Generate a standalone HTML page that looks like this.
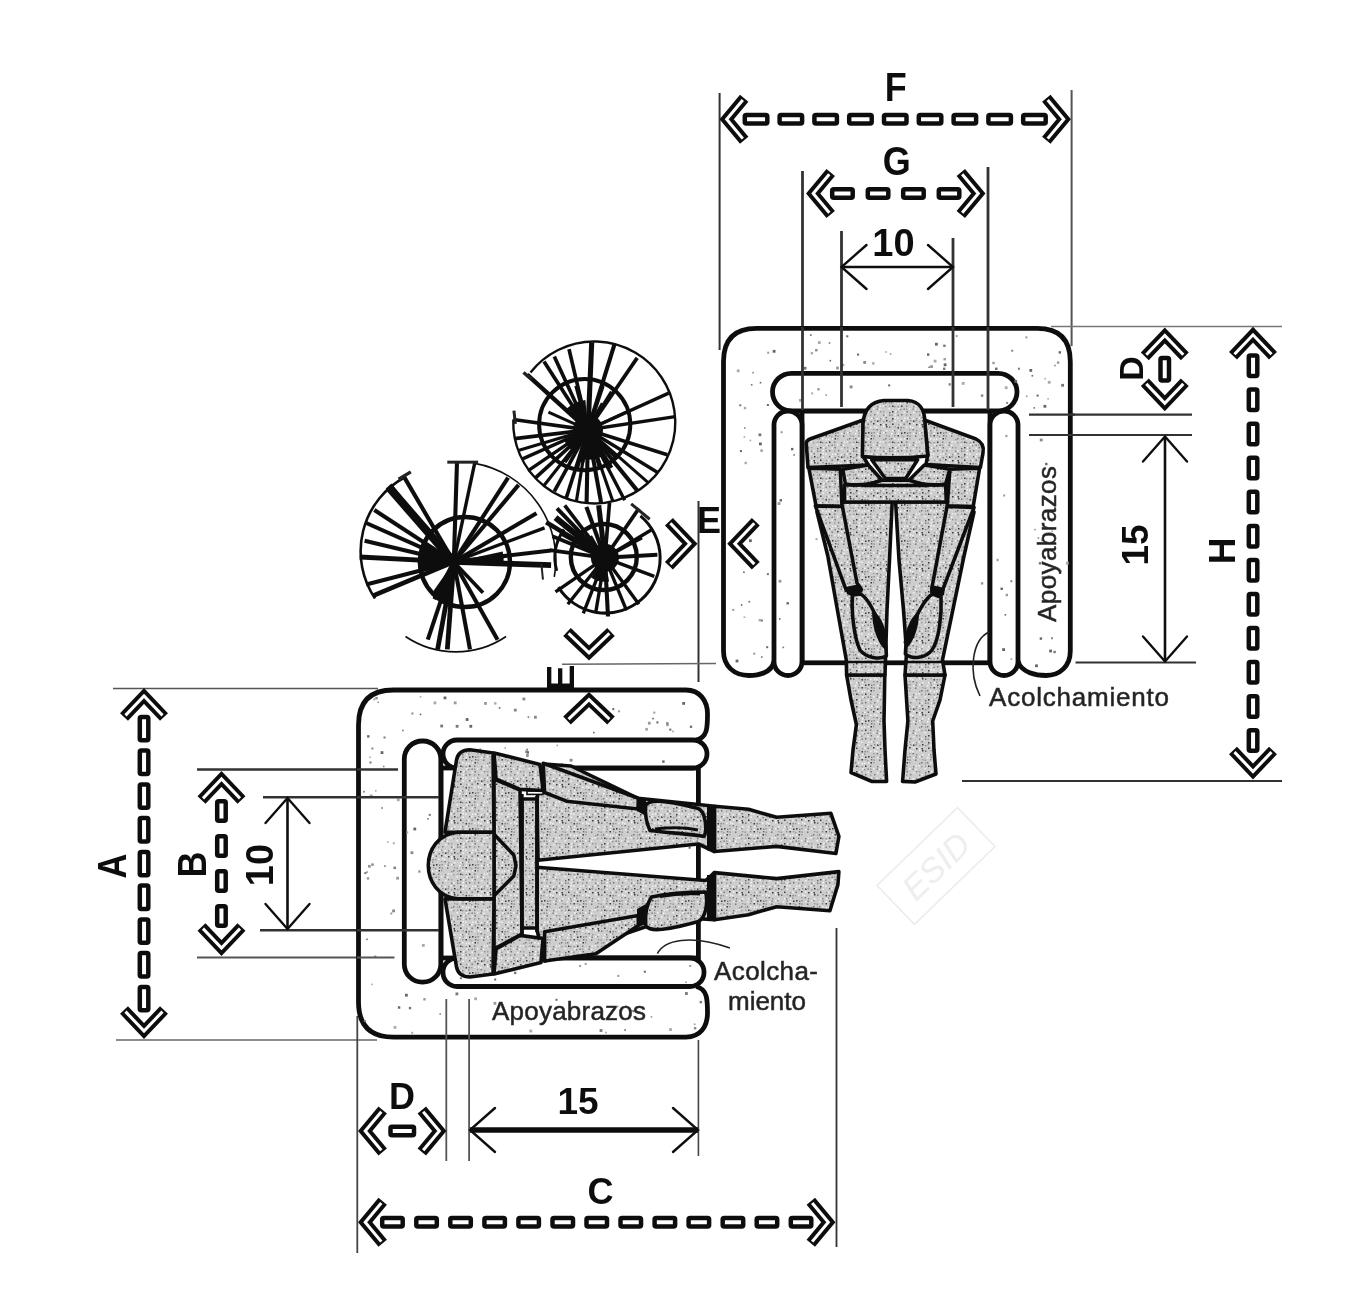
<!DOCTYPE html>
<html><head><meta charset="utf-8"><title>Diagram</title>
<style>
html,body{margin:0;padding:0;background:#fff;}
svg{display:block;font-family:"Liberation Sans",sans-serif;}
</style></head><body>
<svg width="1366" height="1295" viewBox="0 0 1366 1295">
<filter id="soft" x="0" y="0" width="100%" height="100%" filterUnits="userSpaceOnUse"><feGaussianBlur stdDeviation="0.55"/></filter>
<g filter="url(#soft)">
<rect width="1366" height="1295" fill="#fff"/>
<defs>
<pattern id="stip" width="36" height="36" patternUnits="userSpaceOnUse">
<rect width="36" height="36" fill="#cdcdcd"/>
<rect x="1" y="0.5" width="1.5" height="1.5" fill="#3a3a3a"/>
<rect x="4" y="0" width="1.5" height="1.5" fill="#3a3a3a"/>
<rect x="7" y="0.5" width="1.4" height="1.4" fill="#7a7a7a"/>
<rect x="9.5" y="0" width="1.4" height="1.4" fill="#8e8e8e"/>
<rect x="13" y="1" width="1.5" height="1.5" fill="#f4f4f4"/>
<rect x="15.5" y="0.5" width="1.4" height="1.4" fill="#7a7a7a"/>
<rect x="19" y="0" width="1.5" height="1.5" fill="#f4f4f4"/>
<rect x="21" y="0" width="1.4" height="1.4" fill="#8e8e8e"/>
<rect x="27" y="1" width="1.5" height="1.5" fill="#f4f4f4"/>
<rect x="30.5" y="0.5" width="1.4" height="1.4" fill="#8e8e8e"/>
<rect x="33.5" y="1" width="1.5" height="1.5" fill="#f4f4f4"/>
<rect x="1" y="3" width="1.4" height="1.4" fill="#9a9a9a"/>
<rect x="3" y="4" width="1.4" height="1.4" fill="#9a9a9a"/>
<rect x="7" y="3" width="1.4" height="1.4" fill="#6a6a6a"/>
<rect x="9.5" y="3.5" width="1.4" height="1.4" fill="#8e8e8e"/>
<rect x="15" y="3.5" width="1.4" height="1.4" fill="#6a6a6a"/>
<rect x="22" y="3" width="1.4" height="1.4" fill="#9a9a9a"/>
<rect x="24.5" y="3.5" width="1.4" height="1.4" fill="#8e8e8e"/>
<rect x="30" y="3" width="1.4" height="1.4" fill="#8e8e8e"/>
<rect x="33.5" y="3" width="1.5" height="1.5" fill="#3a3a3a"/>
<rect x="0" y="6.5" width="1.5" height="1.5" fill="#f4f4f4"/>
<rect x="4" y="6" width="1.5" height="1.5" fill="#f4f4f4"/>
<rect x="6.5" y="6" width="1.5" height="1.5" fill="#3a3a3a"/>
<rect x="9" y="6" width="1.4" height="1.4" fill="#9a9a9a"/>
<rect x="19" y="7" width="1.4" height="1.4" fill="#8e8e8e"/>
<rect x="21" y="6" width="1.4" height="1.4" fill="#6a6a6a"/>
<rect x="25" y="6.5" width="1.4" height="1.4" fill="#9a9a9a"/>
<rect x="27" y="6" width="1.4" height="1.4" fill="#7a7a7a"/>
<rect x="30" y="6" width="1.5" height="1.5" fill="#f4f4f4"/>
<rect x="33.5" y="7" width="1.5" height="1.5" fill="#f4f4f4"/>
<rect x="1" y="9.5" width="1.5" height="1.5" fill="#3a3a3a"/>
<rect x="6" y="9.5" width="1.4" height="1.4" fill="#7a7a7a"/>
<rect x="13" y="10" width="1.4" height="1.4" fill="#7a7a7a"/>
<rect x="15.5" y="9.5" width="1.5" height="1.5" fill="#f4f4f4"/>
<rect x="18.5" y="9" width="1.5" height="1.5" fill="#f4f4f4"/>
<rect x="21" y="10" width="1.4" height="1.4" fill="#9a9a9a"/>
<rect x="25" y="9.5" width="1.4" height="1.4" fill="#9a9a9a"/>
<rect x="28" y="9.5" width="1.5" height="1.5" fill="#3a3a3a"/>
<rect x="30" y="10" width="1.4" height="1.4" fill="#8e8e8e"/>
<rect x="33.5" y="10" width="1.4" height="1.4" fill="#8e8e8e"/>
<rect x="0" y="13" width="1.4" height="1.4" fill="#8e8e8e"/>
<rect x="3.5" y="12.5" width="1.4" height="1.4" fill="#7a7a7a"/>
<rect x="6" y="12.5" width="1.4" height="1.4" fill="#9a9a9a"/>
<rect x="9" y="12" width="1.5" height="1.5" fill="#f4f4f4"/>
<rect x="12.5" y="12.5" width="1.4" height="1.4" fill="#7a7a7a"/>
<rect x="15" y="12.5" width="1.5" height="1.5" fill="#f4f4f4"/>
<rect x="24.5" y="12" width="1.5" height="1.5" fill="#f4f4f4"/>
<rect x="34" y="12" width="1.5" height="1.5" fill="#f4f4f4"/>
<rect x="3.5" y="15.5" width="1.5" height="1.5" fill="#f4f4f4"/>
<rect x="6.5" y="15" width="1.4" height="1.4" fill="#6a6a6a"/>
<rect x="13" y="16" width="1.5" height="1.5" fill="#f4f4f4"/>
<rect x="16" y="15" width="1.4" height="1.4" fill="#8e8e8e"/>
<rect x="19" y="15" width="1.4" height="1.4" fill="#9a9a9a"/>
<rect x="25" y="16" width="1.4" height="1.4" fill="#6a6a6a"/>
<rect x="28" y="15" width="1.5" height="1.5" fill="#3a3a3a"/>
<rect x="31" y="15" width="1.5" height="1.5" fill="#f4f4f4"/>
<rect x="33" y="15.5" width="1.4" height="1.4" fill="#8e8e8e"/>
<rect x="1" y="18" width="1.4" height="1.4" fill="#6a6a6a"/>
<rect x="6" y="18.5" width="1.4" height="1.4" fill="#9a9a9a"/>
<rect x="10" y="18" width="1.4" height="1.4" fill="#7a7a7a"/>
<rect x="19" y="18.5" width="1.4" height="1.4" fill="#7a7a7a"/>
<rect x="21" y="18" width="1.5" height="1.5" fill="#f4f4f4"/>
<rect x="25" y="18.5" width="1.4" height="1.4" fill="#7a7a7a"/>
<rect x="27.5" y="18.5" width="1.4" height="1.4" fill="#8e8e8e"/>
<rect x="30.5" y="18" width="1.5" height="1.5" fill="#f4f4f4"/>
<rect x="33.5" y="18.5" width="1.4" height="1.4" fill="#7a7a7a"/>
<rect x="4" y="21.5" width="1.5" height="1.5" fill="#f4f4f4"/>
<rect x="7" y="21.5" width="1.5" height="1.5" fill="#f4f4f4"/>
<rect x="9" y="21.5" width="1.4" height="1.4" fill="#8e8e8e"/>
<rect x="12.5" y="22" width="1.5" height="1.5" fill="#f4f4f4"/>
<rect x="16" y="22" width="1.4" height="1.4" fill="#8e8e8e"/>
<rect x="18.5" y="21.5" width="1.5" height="1.5" fill="#f4f4f4"/>
<rect x="21.5" y="21" width="1.4" height="1.4" fill="#7a7a7a"/>
<rect x="28" y="22" width="1.5" height="1.5" fill="#3a3a3a"/>
<rect x="30.5" y="21" width="1.5" height="1.5" fill="#f4f4f4"/>
<rect x="33" y="21.5" width="1.5" height="1.5" fill="#f4f4f4"/>
<rect x="1" y="24" width="1.4" height="1.4" fill="#6a6a6a"/>
<rect x="3" y="24" width="1.5" height="1.5" fill="#f4f4f4"/>
<rect x="6.5" y="25" width="1.4" height="1.4" fill="#7a7a7a"/>
<rect x="10" y="24" width="1.4" height="1.4" fill="#8e8e8e"/>
<rect x="13" y="24.5" width="1.5" height="1.5" fill="#3a3a3a"/>
<rect x="15.5" y="24" width="1.4" height="1.4" fill="#8e8e8e"/>
<rect x="19" y="25" width="1.4" height="1.4" fill="#9a9a9a"/>
<rect x="22" y="24" width="1.5" height="1.5" fill="#3a3a3a"/>
<rect x="25" y="25" width="1.4" height="1.4" fill="#8e8e8e"/>
<rect x="27.5" y="24" width="1.4" height="1.4" fill="#9a9a9a"/>
<rect x="30.5" y="24.5" width="1.5" height="1.5" fill="#f4f4f4"/>
<rect x="0" y="27.5" width="1.5" height="1.5" fill="#f4f4f4"/>
<rect x="3.5" y="27.5" width="1.4" height="1.4" fill="#6a6a6a"/>
<rect x="9" y="27" width="1.5" height="1.5" fill="#3a3a3a"/>
<rect x="13" y="27" width="1.5" height="1.5" fill="#f4f4f4"/>
<rect x="16" y="28" width="1.5" height="1.5" fill="#3a3a3a"/>
<rect x="19" y="28" width="1.5" height="1.5" fill="#f4f4f4"/>
<rect x="21.5" y="28" width="1.5" height="1.5" fill="#3a3a3a"/>
<rect x="28" y="27.5" width="1.5" height="1.5" fill="#3a3a3a"/>
<rect x="34" y="28" width="1.4" height="1.4" fill="#9a9a9a"/>
<rect x="0.5" y="31" width="1.4" height="1.4" fill="#7a7a7a"/>
<rect x="3" y="31" width="1.4" height="1.4" fill="#9a9a9a"/>
<rect x="6" y="30.5" width="1.5" height="1.5" fill="#f4f4f4"/>
<rect x="10" y="30" width="1.5" height="1.5" fill="#f4f4f4"/>
<rect x="12" y="31" width="1.5" height="1.5" fill="#f4f4f4"/>
<rect x="19" y="30" width="1.5" height="1.5" fill="#f4f4f4"/>
<rect x="22" y="30" width="1.5" height="1.5" fill="#3a3a3a"/>
<rect x="25" y="30.5" width="1.4" height="1.4" fill="#6a6a6a"/>
<rect x="30.5" y="30" width="1.4" height="1.4" fill="#9a9a9a"/>
<rect x="33.5" y="31" width="1.5" height="1.5" fill="#3a3a3a"/>
<rect x="0" y="33.5" width="1.4" height="1.4" fill="#8e8e8e"/>
<rect x="9" y="33" width="1.4" height="1.4" fill="#9a9a9a"/>
<rect x="12.5" y="33" width="1.4" height="1.4" fill="#6a6a6a"/>
<rect x="16" y="34" width="1.4" height="1.4" fill="#8e8e8e"/>
<rect x="22" y="34" width="1.5" height="1.5" fill="#f4f4f4"/>
<rect x="28" y="34" width="1.5" height="1.5" fill="#f4f4f4"/>
<rect x="30" y="34" width="1.4" height="1.4" fill="#7a7a7a"/>
<rect x="34" y="34" width="1.5" height="1.5" fill="#f4f4f4"/>
</pattern>
</defs>
<line x1="719.6" y1="93" x2="719.6" y2="350" stroke="#333" stroke-width="2" />
<line x1="1071.6" y1="90" x2="1071.6" y2="346" stroke="#555" stroke-width="2" />
<line x1="802.5" y1="171" x2="802.5" y2="410" stroke="#333" stroke-width="2.8" />
<line x1="988" y1="167" x2="988" y2="410" stroke="#333" stroke-width="2.8" />
<line x1="841.5" y1="231" x2="841.5" y2="407" stroke="#333" stroke-width="2.8" />
<line x1="953" y1="238" x2="953" y2="407" stroke="#333" stroke-width="2.8" />
<line x1="1051" y1="326.5" x2="1282" y2="326.5" stroke="#777" stroke-width="1.6" />
<line x1="1029" y1="414.7" x2="1192" y2="414.7" stroke="#333" stroke-width="2.2" />
<line x1="1029" y1="435" x2="1192" y2="435" stroke="#333" stroke-width="2.2" />
<line x1="1075.5" y1="662.5" x2="1196" y2="662.5" stroke="#333" stroke-width="2.2" />
<line x1="962" y1="781" x2="1282" y2="781" stroke="#333" stroke-width="2.2" />
<line x1="113" y1="688.5" x2="378" y2="688.5" stroke="#555" stroke-width="1.6" />
<line x1="116" y1="1040" x2="377" y2="1040" stroke="#666" stroke-width="1.6" />
<line x1="197" y1="769.5" x2="398" y2="769.5" stroke="#333" stroke-width="2.4" />
<line x1="197" y1="957.5" x2="394.5" y2="957.5" stroke="#555" stroke-width="2.2" />
<line x1="263" y1="797.3" x2="439" y2="797.3" stroke="#333" stroke-width="2.6" />
<line x1="260" y1="930.3" x2="439" y2="930.3" stroke="#333" stroke-width="2.6" />
<line x1="357.3" y1="1016" x2="357.3" y2="1253" stroke="#444" stroke-width="1.8" />
<line x1="836.5" y1="928" x2="836.5" y2="1247" stroke="#333" stroke-width="1.8" />
<line x1="446.3" y1="999" x2="446.3" y2="1161" stroke="#555" stroke-width="1.8" />
<line x1="469.1" y1="999" x2="469.1" y2="1161" stroke="#555" stroke-width="1.8" />
<line x1="698.4" y1="1040" x2="698.4" y2="1156" stroke="#444" stroke-width="1.6" />
<line x1="698.5" y1="501" x2="698.5" y2="682" stroke="#333" stroke-width="2" />
<line x1="562" y1="664.2" x2="716" y2="663.5" stroke="#666" stroke-width="1.4" />
<path d="M 774,661 C 772,673 758,675.5 749,675.5 C 734,675.5 723.5,666 723.5,651 L 723.5,361.5 Q 723.5,328.3 756.5,328.3 L 1037.3,328.3 Q 1070.3,328.3 1070.3,361.5 L 1070.3,651 C 1070.3,666 1060,675.5 1046,675.5 C 1037,675.5 1021,673 1018,661" fill="#fff" stroke="#111" stroke-width="4.8"/>
<rect x="802" y="411" width="188" height="251.8" fill="#fff" stroke="#111" stroke-width="4.8"/>
<rect x="772.5" y="373.3" width="244.5" height="37.6" rx="18.8" fill="#fff" stroke="#111" stroke-width="4.8"/>
<rect x="774" y="411" width="28" height="264.5" rx="14" fill="#fff" stroke="#111" stroke-width="4.8"/>
<rect x="990" y="411" width="28" height="264.5" rx="14" fill="#fff" stroke="#111" stroke-width="4.8"/>
<path d="M 696,740 C 707.5,738 707.5,727 707.5,714 C 707.5,701 700,690 686,690 L 393.5,690 Q 358.5,690 358.5,725 L 358.5,1002 Q 358.5,1037.1 393.5,1037.1 L 686,1037.1 C 700,1037.1 707.5,1027 707.5,1013 C 707.5,1000 707.5,989 696,986.5" fill="#fff" stroke="#111" stroke-width="4.8"/>
<rect x="441" y="768" width="257.4" height="190" fill="#fff" stroke="#111" stroke-width="4.8"/>
<rect x="443" y="740" width="264" height="28" rx="14" fill="#fff" stroke="#111" stroke-width="4.8"/>
<rect x="443" y="958" width="261" height="28.5" rx="14" fill="#fff" stroke="#111" stroke-width="4.8"/>
<rect x="404.3" y="741" width="36.5" height="241.2" rx="18" fill="#fff" stroke="#111" stroke-width="4.8"/>
<rect x="810.7" y="352.0" width="2.4" height="2.4" fill="#aaa"/>
<rect x="889.8" y="353.3" width="1.6" height="1.6" fill="#999"/>
<rect x="817.9" y="341.2" width="2.8" height="2.8" fill="#aaa"/>
<rect x="1011.2" y="349.7" width="2" height="2" fill="#888"/>
<rect x="943.7" y="363.4" width="2.8" height="2.8" fill="#666"/>
<rect x="955.9" y="335.2" width="1.6" height="1.6" fill="#777"/>
<rect x="992.3" y="361.8" width="2.4" height="2.4" fill="#999"/>
<rect x="930.2" y="365.2" width="2.8" height="2.8" fill="#999"/>
<rect x="863.3" y="361.0" width="2.8" height="2.8" fill="#888"/>
<rect x="1025.4" y="336.4" width="2" height="2" fill="#999"/>
<rect x="803.7" y="366.8" width="2.8" height="2.8" fill="#777"/>
<rect x="872.1" y="362.2" width="2.4" height="2.4" fill="#aaa"/>
<rect x="927.0" y="353.4" width="2.4" height="2.4" fill="#666"/>
<rect x="1017.9" y="367.7" width="2" height="2" fill="#777"/>
<rect x="1054.2" y="364.7" width="1.6" height="1.6" fill="#888"/>
<rect x="943.0" y="367.6" width="2.4" height="2.4" fill="#777"/>
<rect x="772.7" y="349.9" width="2.8" height="2.8" fill="#666"/>
<rect x="846.3" y="335.3" width="2" height="2" fill="#666"/>
<rect x="829.5" y="359.9" width="1.6" height="1.6" fill="#666"/>
<rect x="933.7" y="359.7" width="2.8" height="2.8" fill="#aaa"/>
<rect x="841.9" y="363.8" width="2.4" height="2.4" fill="#aaa"/>
<rect x="810.0" y="334.3" width="1.6" height="1.6" fill="#666"/>
<rect x="767.2" y="351.7" width="2" height="2" fill="#999"/>
<rect x="828.7" y="342.2" width="1.6" height="1.6" fill="#777"/>
<rect x="836.1" y="366.6" width="2.8" height="2.8" fill="#999"/>
<rect x="885.2" y="351.2" width="1.6" height="1.6" fill="#aaa"/>
<rect x="1056.9" y="361.4" width="2.4" height="2.4" fill="#999"/>
<rect x="943.5" y="358.0" width="2.4" height="2.4" fill="#999"/>
<rect x="1058.6" y="351.2" width="2.4" height="2.4" fill="#666"/>
<rect x="995.1" y="367.6" width="2.4" height="2.4" fill="#666"/>
<rect x="857.1" y="353.6" width="2" height="2" fill="#666"/>
<rect x="943.2" y="344.6" width="2.4" height="2.4" fill="#777"/>
<rect x="935.0" y="342.8" width="2.8" height="2.8" fill="#666"/>
<rect x="928.4" y="366.4" width="1.6" height="1.6" fill="#777"/>
<rect x="815.1" y="349.0" width="2.4" height="2.4" fill="#888"/>
<rect x="744.5" y="461.8" width="2.4" height="2.4" fill="#aaa"/>
<rect x="740.8" y="604.2" width="1.6" height="1.6" fill="#666"/>
<rect x="766.9" y="573.1" width="2" height="2" fill="#777"/>
<rect x="749.5" y="564.1" width="2.4" height="2.4" fill="#888"/>
<rect x="743.1" y="571.4" width="1.6" height="1.6" fill="#666"/>
<rect x="753.2" y="652.7" width="2" height="2" fill="#999"/>
<rect x="761.0" y="656.2" width="1.6" height="1.6" fill="#777"/>
<rect x="758.5" y="433.4" width="2.8" height="2.8" fill="#777"/>
<rect x="739.3" y="404.3" width="2" height="2" fill="#777"/>
<rect x="760.9" y="619.5" width="2" height="2" fill="#777"/>
<rect x="743.6" y="616.4" width="1.6" height="1.6" fill="#aaa"/>
<rect x="743.8" y="406.9" width="2.4" height="2.4" fill="#aaa"/>
<rect x="760.4" y="449.4" width="2.4" height="2.4" fill="#999"/>
<rect x="741.7" y="538.5" width="1.6" height="1.6" fill="#999"/>
<rect x="736.8" y="369.4" width="2.8" height="2.8" fill="#aaa"/>
<rect x="766.2" y="646.2" width="2" height="2" fill="#666"/>
<rect x="758.6" y="619.0" width="2.4" height="2.4" fill="#aaa"/>
<rect x="743.6" y="436.2" width="1.6" height="1.6" fill="#aaa"/>
<rect x="766.9" y="404.0" width="2" height="2" fill="#666"/>
<rect x="732.3" y="608.9" width="2" height="2" fill="#999"/>
<rect x="752.3" y="371.9" width="1.6" height="1.6" fill="#888"/>
<rect x="749.6" y="439.7" width="1.6" height="1.6" fill="#aaa"/>
<rect x="750.9" y="384.0" width="1.6" height="1.6" fill="#777"/>
<rect x="735.6" y="659.6" width="2.8" height="2.8" fill="#666"/>
<rect x="744.0" y="427.2" width="1.6" height="1.6" fill="#888"/>
<rect x="739.9" y="450.1" width="2" height="2" fill="#666"/>
<rect x="749.0" y="539.3" width="2.8" height="2.8" fill="#666"/>
<rect x="759.0" y="442.5" width="2.8" height="2.8" fill="#666"/>
<rect x="748.5" y="600.9" width="1.6" height="1.6" fill="#666"/>
<rect x="759.7" y="381.9" width="1.6" height="1.6" fill="#666"/>
<rect x="1044.3" y="377.9" width="1.6" height="1.6" fill="#aaa"/>
<rect x="1045.1" y="462.8" width="2.4" height="2.4" fill="#666"/>
<rect x="1038.8" y="562.1" width="2.4" height="2.4" fill="#777"/>
<rect x="1035.1" y="664.4" width="2.8" height="2.8" fill="#666"/>
<rect x="1029.4" y="369.0" width="2.8" height="2.8" fill="#666"/>
<rect x="1047.8" y="380.9" width="2.8" height="2.8" fill="#aaa"/>
<rect x="1051.3" y="530.4" width="1.6" height="1.6" fill="#aaa"/>
<rect x="1061.2" y="383.9" width="2.8" height="2.8" fill="#777"/>
<rect x="1041.7" y="576.2" width="2.8" height="2.8" fill="#666"/>
<rect x="1034.3" y="528.8" width="1.6" height="1.6" fill="#999"/>
<rect x="1033.4" y="407.1" width="1.6" height="1.6" fill="#777"/>
<rect x="1039.7" y="637.4" width="2.4" height="2.4" fill="#666"/>
<rect x="1043.5" y="404.9" width="2.8" height="2.8" fill="#666"/>
<rect x="1054.8" y="537.2" width="1.6" height="1.6" fill="#aaa"/>
<rect x="1054.1" y="510.1" width="2" height="2" fill="#999"/>
<rect x="1025.9" y="395.5" width="1.6" height="1.6" fill="#999"/>
<rect x="1031.5" y="375.0" width="1.6" height="1.6" fill="#666"/>
<rect x="1059.4" y="570.1" width="2.4" height="2.4" fill="#aaa"/>
<rect x="1036.6" y="394.6" width="2" height="2" fill="#666"/>
<rect x="1047.3" y="398.0" width="1.6" height="1.6" fill="#aaa"/>
<rect x="1037.6" y="537.2" width="1.6" height="1.6" fill="#888"/>
<rect x="1065.9" y="561.8" width="2.8" height="2.8" fill="#aaa"/>
<rect x="1053.4" y="650.8" width="2.4" height="2.4" fill="#777"/>
<rect x="1049.2" y="649.6" width="2.8" height="2.8" fill="#666"/>
<rect x="1039.8" y="438.6" width="2.8" height="2.8" fill="#888"/>
<rect x="1041.4" y="538.5" width="2.8" height="2.8" fill="#888"/>
<rect x="1051.0" y="637.2" width="2" height="2" fill="#888"/>
<rect x="799.0" y="398.9" width="2.8" height="2.8" fill="#aaa"/>
<rect x="948.5" y="383.2" width="2.4" height="2.4" fill="#888"/>
<rect x="811.2" y="392.4" width="2" height="2" fill="#aaa"/>
<rect x="1004.8" y="386.3" width="2.8" height="2.8" fill="#aaa"/>
<rect x="980.9" y="394.4" width="2.4" height="2.4" fill="#888"/>
<rect x="849.7" y="385.5" width="2.8" height="2.8" fill="#888"/>
<rect x="817.3" y="388.1" width="2.4" height="2.4" fill="#999"/>
<rect x="961.8" y="382.0" width="2.8" height="2.8" fill="#aaa"/>
<rect x="825.4" y="394.3" width="1.6" height="1.6" fill="#999"/>
<rect x="1014.3" y="380.0" width="2.8" height="2.8" fill="#666"/>
<rect x="888.2" y="384.4" width="2" height="2" fill="#666"/>
<rect x="1006.1" y="401.9" width="2" height="2" fill="#888"/>
<rect x="793.3" y="454.1" width="1.6" height="1.6" fill="#777"/>
<rect x="780.6" y="431.2" width="2" height="2" fill="#999"/>
<rect x="778.9" y="618.1" width="1.6" height="1.6" fill="#666"/>
<rect x="782.5" y="646.6" width="1.6" height="1.6" fill="#777"/>
<rect x="786.5" y="602.1" width="2.4" height="2.4" fill="#666"/>
<rect x="777.6" y="502.2" width="2.8" height="2.8" fill="#999"/>
<rect x="778.6" y="579.8" width="2.8" height="2.8" fill="#999"/>
<rect x="779.6" y="499.1" width="2.4" height="2.4" fill="#666"/>
<rect x="791.0" y="447.9" width="2.4" height="2.4" fill="#666"/>
<rect x="1005.6" y="593.8" width="2.4" height="2.4" fill="#999"/>
<rect x="1000.5" y="587.6" width="2.4" height="2.4" fill="#666"/>
<rect x="1010.6" y="658.4" width="1.6" height="1.6" fill="#999"/>
<rect x="1005.2" y="434.8" width="2.4" height="2.4" fill="#aaa"/>
<rect x="1010.3" y="580.2" width="2" height="2" fill="#888"/>
<rect x="1002.2" y="648.2" width="2.8" height="2.8" fill="#666"/>
<rect x="996.4" y="558.8" width="2.4" height="2.4" fill="#aaa"/>
<rect x="1003.2" y="494.5" width="2" height="2" fill="#999"/>
<rect x="1004.6" y="614.0" width="1.6" height="1.6" fill="#666"/>
<rect x="934.7" y="598.6" width="2.8" height="2.8" fill="#777"/>
<rect x="825.7" y="481.5" width="1.6" height="1.6" fill="#888"/>
<rect x="815.5" y="538.1" width="2" height="2" fill="#aaa"/>
<rect x="870.7" y="496.6" width="2.8" height="2.8" fill="#999"/>
<rect x="903.8" y="602.8" width="2.4" height="2.4" fill="#999"/>
<rect x="957.9" y="443.1" width="2.4" height="2.4" fill="#aaa"/>
<rect x="825.6" y="443.3" width="1.6" height="1.6" fill="#888"/>
<rect x="931.6" y="553.2" width="2.8" height="2.8" fill="#888"/>
<rect x="912.8" y="451.4" width="2.8" height="2.8" fill="#888"/>
<rect x="904.4" y="457.2" width="2" height="2" fill="#888"/>
<rect x="961.7" y="505.4" width="2.4" height="2.4" fill="#666"/>
<rect x="957.1" y="523.7" width="2.8" height="2.8" fill="#999"/>
<rect x="863.9" y="635.3" width="2.4" height="2.4" fill="#999"/>
<rect x="980.9" y="582.2" width="2.4" height="2.4" fill="#999"/>
<rect x="813.3" y="462.1" width="1.6" height="1.6" fill="#666"/>
<rect x="944.4" y="576.2" width="2.8" height="2.8" fill="#888"/>
<rect x="900.7" y="527.4" width="2" height="2" fill="#aaa"/>
<rect x="845.5" y="612.7" width="2.8" height="2.8" fill="#666"/>
<rect x="908.2" y="648.1" width="2" height="2" fill="#888"/>
<rect x="890.7" y="437.5" width="1.6" height="1.6" fill="#666"/>
<rect x="871.7" y="472.5" width="1.6" height="1.6" fill="#999"/>
<rect x="903.4" y="641.0" width="2.4" height="2.4" fill="#777"/>
<rect x="656.4" y="721.4" width="2" height="2" fill="#666"/>
<rect x="652.2" y="717.8" width="1.6" height="1.6" fill="#666"/>
<rect x="612.3" y="708.1" width="2" height="2" fill="#666"/>
<rect x="653.3" y="711.6" width="2" height="2" fill="#999"/>
<rect x="469.4" y="724.9" width="2.8" height="2.8" fill="#666"/>
<rect x="647.9" y="721.8" width="2.8" height="2.8" fill="#999"/>
<rect x="522.5" y="697.6" width="2.8" height="2.8" fill="#888"/>
<rect x="581.8" y="706.6" width="2.8" height="2.8" fill="#999"/>
<rect x="618.1" y="710.3" width="2" height="2" fill="#999"/>
<rect x="666.1" y="722.3" width="2.4" height="2.4" fill="#777"/>
<rect x="513.9" y="708.7" width="2.8" height="2.8" fill="#888"/>
<rect x="689.8" y="725.6" width="2.4" height="2.4" fill="#777"/>
<rect x="411.4" y="712.5" width="2" height="2" fill="#888"/>
<rect x="433.5" y="701.5" width="2.8" height="2.8" fill="#aaa"/>
<rect x="419.7" y="696.0" width="1.6" height="1.6" fill="#aaa"/>
<rect x="419.7" y="713.6" width="1.6" height="1.6" fill="#666"/>
<rect x="498.8" y="707.1" width="1.6" height="1.6" fill="#666"/>
<rect x="443.6" y="696.5" width="2.8" height="2.8" fill="#666"/>
<rect x="669.3" y="728.6" width="2" height="2" fill="#666"/>
<rect x="494.1" y="702.2" width="2.4" height="2.4" fill="#aaa"/>
<rect x="402.1" y="729.7" width="1.6" height="1.6" fill="#777"/>
<rect x="455.7" y="724.9" width="2.8" height="2.8" fill="#777"/>
<rect x="527.6" y="716.3" width="1.6" height="1.6" fill="#777"/>
<rect x="575.0" y="708.1" width="1.6" height="1.6" fill="#666"/>
<rect x="593.0" y="731.8" width="1.6" height="1.6" fill="#666"/>
<rect x="373.2" y="698.4" width="2" height="2" fill="#aaa"/>
<rect x="375.3" y="697.0" width="2.4" height="2.4" fill="#888"/>
<rect x="666.3" y="723.8" width="2.4" height="2.4" fill="#999"/>
<rect x="672.2" y="730.7" width="1.6" height="1.6" fill="#999"/>
<rect x="465.7" y="718.1" width="2.8" height="2.8" fill="#666"/>
<rect x="682.2" y="702.0" width="2.8" height="2.8" fill="#666"/>
<rect x="534.0" y="715.8" width="2.8" height="2.8" fill="#888"/>
<rect x="645.2" y="727.9" width="2.8" height="2.8" fill="#aaa"/>
<rect x="484.1" y="702.0" width="2.8" height="2.8" fill="#999"/>
<rect x="440.3" y="724.6" width="2.8" height="2.8" fill="#777"/>
<rect x="453.8" y="701.5" width="2.8" height="2.8" fill="#999"/>
<rect x="377.4" y="701.5" width="1.6" height="1.6" fill="#999"/>
<rect x="366.2" y="938.5" width="1.6" height="1.6" fill="#777"/>
<rect x="371.3" y="983.6" width="1.6" height="1.6" fill="#aaa"/>
<rect x="393.5" y="866.6" width="2.4" height="2.4" fill="#777"/>
<rect x="363.1" y="790.9" width="1.6" height="1.6" fill="#777"/>
<rect x="382.9" y="765.7" width="1.6" height="1.6" fill="#888"/>
<rect x="371.4" y="747.5" width="2" height="2" fill="#888"/>
<rect x="383.5" y="736.5" width="2" height="2" fill="#777"/>
<rect x="396.9" y="798.4" width="2.8" height="2.8" fill="#aaa"/>
<rect x="390.3" y="912.5" width="2" height="2" fill="#999"/>
<rect x="369.2" y="756.5" width="1.6" height="1.6" fill="#aaa"/>
<rect x="363.8" y="1020.0" width="2" height="2" fill="#777"/>
<rect x="366.0" y="871.2" width="2" height="2" fill="#aaa"/>
<rect x="366.8" y="877.2" width="2.4" height="2.4" fill="#999"/>
<rect x="384.1" y="865.3" width="1.6" height="1.6" fill="#777"/>
<rect x="392.2" y="909.5" width="2.8" height="2.8" fill="#888"/>
<rect x="367.1" y="735.2" width="2.4" height="2.4" fill="#666"/>
<rect x="375.0" y="790.0" width="1.6" height="1.6" fill="#aaa"/>
<rect x="387.0" y="841.3" width="1.6" height="1.6" fill="#aaa"/>
<rect x="381.2" y="807.2" width="1.6" height="1.6" fill="#777"/>
<rect x="371.3" y="863.4" width="2.4" height="2.4" fill="#888"/>
<rect x="374.3" y="955.6" width="2" height="2" fill="#888"/>
<rect x="393.6" y="1026.0" width="2.8" height="2.8" fill="#aaa"/>
<rect x="392.8" y="842.2" width="2" height="2" fill="#aaa"/>
<rect x="396.2" y="876.8" width="2.8" height="2.8" fill="#999"/>
<rect x="397.9" y="1006.3" width="2.4" height="2.4" fill="#666"/>
<rect x="369.5" y="761.5" width="2" height="2" fill="#777"/>
<rect x="380.6" y="751.2" width="2.8" height="2.8" fill="#666"/>
<rect x="369.8" y="794.6" width="2.8" height="2.8" fill="#999"/>
<rect x="364.3" y="872.1" width="2" height="2" fill="#777"/>
<rect x="368.0" y="864.9" width="2.8" height="2.8" fill="#999"/>
<rect x="423.3" y="998.1" width="2.4" height="2.4" fill="#999"/>
<rect x="693.9" y="1027.0" width="2.4" height="2.4" fill="#888"/>
<rect x="529.4" y="1029.6" width="2.8" height="2.8" fill="#aaa"/>
<rect x="699.6" y="1000.9" width="2.4" height="2.4" fill="#777"/>
<rect x="408.8" y="1006.9" width="2.4" height="2.4" fill="#777"/>
<rect x="624.3" y="1029.2" width="1.6" height="1.6" fill="#666"/>
<rect x="439.4" y="1013.2" width="1.6" height="1.6" fill="#888"/>
<rect x="685.0" y="992.1" width="2.8" height="2.8" fill="#777"/>
<rect x="693.8" y="1023.4" width="1.6" height="1.6" fill="#999"/>
<rect x="455.5" y="992.5" width="2.8" height="2.8" fill="#777"/>
<rect x="650.7" y="1016.1" width="1.6" height="1.6" fill="#999"/>
<rect x="493.5" y="1001.9" width="2.8" height="2.8" fill="#999"/>
<rect x="616.9" y="1005.6" width="1.6" height="1.6" fill="#999"/>
<rect x="411.2" y="1031.8" width="2" height="2" fill="#aaa"/>
<rect x="474.2" y="997.4" width="2.8" height="2.8" fill="#aaa"/>
<rect x="625.2" y="1005.5" width="2" height="2" fill="#777"/>
<rect x="405.0" y="993.8" width="2.8" height="2.8" fill="#666"/>
<rect x="669.1" y="1028.2" width="2.8" height="2.8" fill="#aaa"/>
<rect x="599.6" y="1029.1" width="2.8" height="2.8" fill="#777"/>
<rect x="555.5" y="998.8" width="2" height="2" fill="#666"/>
<rect x="605.1" y="1031.7" width="1.6" height="1.6" fill="#999"/>
<rect x="632.3" y="1009.8" width="2.4" height="2.4" fill="#777"/>
<rect x="560.9" y="763.1" width="2" height="2" fill="#aaa"/>
<rect x="526.0" y="754.0" width="2.8" height="2.8" fill="#999"/>
<rect x="662.2" y="760.4" width="2.4" height="2.4" fill="#666"/>
<rect x="526.4" y="755.6" width="1.6" height="1.6" fill="#999"/>
<rect x="477.8" y="759.5" width="2.4" height="2.4" fill="#666"/>
<rect x="556.5" y="744.6" width="1.6" height="1.6" fill="#aaa"/>
<rect x="569.7" y="758.8" width="2.8" height="2.8" fill="#888"/>
<rect x="525.1" y="750.3" width="2.8" height="2.8" fill="#999"/>
<rect x="526.3" y="748.7" width="1.6" height="1.6" fill="#777"/>
<rect x="526.6" y="751.2" width="2.4" height="2.4" fill="#666"/>
<rect x="479.4" y="748.3" width="1.6" height="1.6" fill="#999"/>
<rect x="504.4" y="747.2" width="1.6" height="1.6" fill="#aaa"/>
<rect x="475.2" y="974.6" width="1.6" height="1.6" fill="#666"/>
<rect x="685.3" y="981.5" width="1.6" height="1.6" fill="#999"/>
<rect x="514.0" y="971.7" width="2.4" height="2.4" fill="#777"/>
<rect x="584.7" y="962.9" width="2" height="2" fill="#999"/>
<rect x="689.2" y="964.9" width="2" height="2" fill="#999"/>
<rect x="617.3" y="974.9" width="2" height="2" fill="#999"/>
<rect x="459.9" y="977.2" width="2" height="2" fill="#777"/>
<rect x="494.2" y="978.5" width="2" height="2" fill="#666"/>
<rect x="579.1" y="965.0" width="2" height="2" fill="#999"/>
<rect x="643.8" y="970.7" width="2" height="2" fill="#666"/>
<rect x="517.3" y="964.6" width="2" height="2" fill="#777"/>
<rect x="478.2" y="969.0" width="1.6" height="1.6" fill="#888"/>
<rect x="406.2" y="831.4" width="2" height="2" fill="#999"/>
<rect x="413.4" y="827.6" width="2.8" height="2.8" fill="#666"/>
<rect x="427.1" y="818.0" width="1.6" height="1.6" fill="#777"/>
<rect x="421.9" y="944.0" width="2.8" height="2.8" fill="#aaa"/>
<rect x="418.2" y="870.3" width="2.4" height="2.4" fill="#999"/>
<rect x="410.5" y="851.3" width="2.8" height="2.8" fill="#888"/>
<rect x="428.7" y="813.9" width="2" height="2" fill="#777"/>
<rect x="684.9" y="924.2" width="2" height="2" fill="#777"/>
<rect x="511.9" y="809.4" width="1.6" height="1.6" fill="#aaa"/>
<rect x="688.6" y="846.7" width="2" height="2" fill="#666"/>
<rect x="588.2" y="801.4" width="1.6" height="1.6" fill="#999"/>
<rect x="691.9" y="896.4" width="2.4" height="2.4" fill="#666"/>
<rect x="560.9" y="877.6" width="2.4" height="2.4" fill="#888"/>
<rect x="592.4" y="812.3" width="2.8" height="2.8" fill="#aaa"/>
<rect x="585.8" y="887.6" width="2.4" height="2.4" fill="#aaa"/>
<rect x="637.2" y="903.2" width="2.4" height="2.4" fill="#777"/>
<rect x="517.1" y="948.8" width="2.4" height="2.4" fill="#888"/>
<rect x="476.5" y="863.1" width="2.4" height="2.4" fill="#888"/>
<rect x="516.0" y="947.0" width="2.8" height="2.8" fill="#888"/>
<rect x="564.5" y="868.7" width="2" height="2" fill="#aaa"/>
<rect x="577.1" y="852.5" width="1.6" height="1.6" fill="#666"/>
<rect x="549.5" y="872.0" width="2.4" height="2.4" fill="#666"/>
<rect x="504.6" y="841.7" width="2" height="2" fill="#666"/>
<rect x="536.9" y="811.6" width="2.8" height="2.8" fill="#666"/>
<rect x="552.9" y="929.1" width="2.4" height="2.4" fill="#666"/>
<rect x="520.5" y="864.0" width="2.8" height="2.8" fill="#999"/>
<rect x="538.4" y="890.3" width="1.6" height="1.6" fill="#aaa"/>
<rect x="568.8" y="831.2" width="1.6" height="1.6" fill="#777"/>
<rect x="461.9" y="773.0" width="1.6" height="1.6" fill="#888"/>
<line x1="802.5" y1="327" x2="802.5" y2="410" stroke="#333" stroke-width="2.8" />
<line x1="988" y1="327" x2="988" y2="410" stroke="#333" stroke-width="2.8" />
<line x1="841.5" y1="327" x2="841.5" y2="407" stroke="#333" stroke-width="2.8" />
<line x1="953" y1="327" x2="953" y2="407" stroke="#333" stroke-width="2.8" />
<line x1="357" y1="769.5" x2="398" y2="769.5" stroke="#333" stroke-width="2.4" />
<line x1="357" y1="957.5" x2="394.5" y2="957.5" stroke="#555" stroke-width="2.2" />
<line x1="357" y1="797.3" x2="439" y2="797.3" stroke="#333" stroke-width="2.6" />
<line x1="357" y1="930.3" x2="439" y2="930.3" stroke="#333" stroke-width="2.6" />
<line x1="1029" y1="414.7" x2="1075" y2="414.7" stroke="#333" stroke-width="2.2" />
<line x1="1029" y1="435" x2="1075" y2="435" stroke="#333" stroke-width="2.2" />
<line x1="446.3" y1="999" x2="446.3" y2="1040" stroke="#555" stroke-width="1.8" />
<line x1="469.1" y1="999" x2="469.1" y2="1040" stroke="#555" stroke-width="1.8" />
<path d="M 846.6,675.0 L 851.0,700.0 L 856.4,724.5 L 853.0,750.0 L 851.0,772.5 L 872.0,781.5 L 886.6,781.4 L 885.0,750.0 L 884.0,721.0 L 884.8,675.0 Z" fill="url(#stip)" stroke="#111" stroke-width="3.6" stroke-linejoin="round" />
<path d="M 905.0,675.0 L 907.9,721.0 L 905.0,750.0 L 902.6,781.4 L 915.0,782.0 L 936.0,774.0 L 934.0,750.0 L 932.7,721.0 L 940.0,700.0 L 945.0,675.0 Z" fill="url(#stip)" stroke="#111" stroke-width="3.6" stroke-linejoin="round" />
<path d="M 844.5,502.0 L 892.2,502.0 L 889.5,560.0 L 887.0,610.0 L 885.7,652.0 L 885.0,675.0 L 846.6,675.0 L 846.3,660.0 L 827.8,556.0 L 817.0,512.0 Z" fill="url(#stip)" stroke="#111" stroke-width="3.6" stroke-linejoin="round" />
<path d="M 895.6,502.0 L 946.3,502.0 L 974.0,512.0 L 964.0,556.0 L 942.5,660.0 L 945.0,675.0 L 905.0,675.0 L 906.6,652.0 L 903.5,610.0 L 899.0,560.0 Z" fill="url(#stip)" stroke="#111" stroke-width="3.6" stroke-linejoin="round" />
<line x1="846" y1="662" x2="886" y2="662" stroke="#111" stroke-width="2.4" />
<line x1="905" y1="662" x2="945" y2="662" stroke="#111" stroke-width="2.4" />
<path d="M 844.5,485.0 L 945.6,485.0 L 946.3,502.0 L 844.5,502.0 Z" fill="url(#stip)" stroke="#111" stroke-width="3.6" stroke-linejoin="round" />
<path d="M 842.8,469.2 L 868.3,465 L 882,480.2 Q 864,487 845.4,484 Z" fill="url(#stip)" stroke="#111" stroke-width="3.6" stroke-linejoin="round" />
<path d="M 949.9,469.2 L 924.4,465 L 909,480.2 Q 927,487 945.6,484 Z" fill="url(#stip)" stroke="#111" stroke-width="3.6" stroke-linejoin="round" />
<path d="M 882.0,480.2 L 909.0,480.2 L 927.0,485.5 L 864.0,485.5 Z" fill="url(#stip)" stroke="#111" stroke-width="3.6" stroke-linejoin="round" />
<path d="M 808.9,468.3 L 840.3,469.2 L 842.0,506.5 L 816.0,505.7 Z" fill="url(#stip)" stroke="#111" stroke-width="3.6" stroke-linejoin="round" />
<path d="M 949.9,469.2 L 979.6,468.3 L 973.2,506.5 L 947.3,505.7 Z" fill="url(#stip)" stroke="#111" stroke-width="3.6" stroke-linejoin="round" />
<path d="M 815.4,506.0 L 842.4,506.5 L 857.0,583.0 L 861.5,589.5 L 846.3,590.5 Z" fill="url(#stip)" stroke="#111" stroke-width="3.6" stroke-linejoin="round" />
<path d="M 974.0,507.5 L 947.0,506.5 L 931.7,588.8 L 933.0,594.0 L 942.5,590.3 Z" fill="url(#stip)" stroke="#111" stroke-width="3.6" stroke-linejoin="round" />
<path d="M 852.5,595 C 851,615 855,640 860,650 C 866,658 880,660 886.4,656 C 887,640 872,600 860.5,594 Z" fill="url(#stip)" stroke="#111" stroke-width="3.6" stroke-linejoin="round" />
<path d="M 941,597 C 942,615 939,640 932,650 C 926,658 912,660 905.4,654 C 905,640 920,602 932.5,594 Z" fill="url(#stip)" stroke="#111" stroke-width="3.6" stroke-linejoin="round" />
<path d="M 873,611 C 881,618 886.5,632 886.8,650 C 879,644 873,628 873,611 Z" fill="#111" stroke="#111" stroke-width="2" stroke-linejoin="round" />
<path d="M 918,613 C 910,620 905.6,632 905.4,648 C 912,643 918,628 918,613 Z" fill="#111" stroke="#111" stroke-width="2" stroke-linejoin="round" />
<path d="M 845.5,587 L 860,584 L 862.5,592 L 853,597 L 847,594 Z" fill="#111"/>
<path d="M 945,588 L 931,585 L 930,593 L 938,598 L 944,595 Z" fill="#111"/>
<path d="M 806.3,444 Q 806,440.5 810,439 L 863.2,420 L 863.2,456.4 L 868.3,465 L 808,467.5 Z" fill="url(#stip)" stroke="#111" stroke-width="3.6" stroke-linejoin="round" />
<path d="M 924.4,420 L 976,439 Q 985,443.5 983,453 L 980.4,467.5 L 926,464.5 L 927.8,454.7 Z" fill="url(#stip)" stroke="#111" stroke-width="3.6" stroke-linejoin="round" />
<path d="M 871.7,459.8 L 885.3,478.5 L 905.7,478.5 L 917.6,459.8 Z" fill="url(#stip)" stroke="#111" stroke-width="3.6" stroke-linejoin="round" />
<path d="M 862.4,456.6 L 863,424 C 864,408 872,401.5 884,400.5 L 908,400.5 C 919,401.5 925,408 925,424 L 927.8,456 Q 895,459.5 862.4,456.6 Z" fill="url(#stip)" stroke="#111" stroke-width="3.6" stroke-linejoin="round" />
<path d="M 714.4,806.3 L 748.5,809.3 L 776.7,817.3 L 830.9,813.3 L 838.9,836.4 L 835.9,853.5 L 776.7,846.4 L 714.4,851.5 Z" fill="url(#stip)" stroke="#111" stroke-width="3.6" stroke-linejoin="round" />
<path d="M 714.4,872.6 L 776.7,878.6 L 838.9,871.6 L 837.9,884.6 L 829.9,910.7 L 776.7,906.7 L 748.5,914.7 L 714.4,919.8 Z" fill="url(#stip)" stroke="#111" stroke-width="3.6" stroke-linejoin="round" />
<path d="M 537.0,798.3 L 544.0,764.0 L 571.0,766.0 L 638.0,798.3 L 698.4,804.5 L 714.4,806.3 L 714.4,851.5 L 698.4,844.0 L 538.0,860.3 Z" fill="url(#stip)" stroke="#111" stroke-width="3.6" stroke-linejoin="round" />
<path d="M 537.0,867.3 L 705.7,880.5 L 714.4,872.6 L 714.4,919.8 L 698.4,918.6 L 645.0,927.0 L 544.6,961.0 L 537.0,930.0 Z" fill="url(#stip)" stroke="#111" stroke-width="3.6" stroke-linejoin="round" />
<rect x="707" y="806" width="7.4" height="44.5" fill="#111"/>
<rect x="707" y="875" width="7.4" height="44.5" fill="#111"/>
<path d="M 543.2,763.2 L 638.3,798.3 L 638.0,809.0 L 566.6,801.2 L 544.6,792.5 Z" fill="url(#stip)" stroke="#111" stroke-width="3.6" stroke-linejoin="round" />
<path d="M 544.6,931.7 L 638.3,915.6 L 638.3,925.5 L 595.9,953.7 L 544.6,961.0 Z" fill="url(#stip)" stroke="#111" stroke-width="3.6" stroke-linejoin="round" />
<path d="M 637,797.5 L 646,800 L 646,816 L 637,811 Z" fill="#111"/>
<path d="M 637,927.5 L 646,924 L 646,904 L 637,909 Z" fill="#111"/>
<path d="M 645.7,805 C 650,800 660,799 698.4,808.6 C 706,812 707,830 704.2,836.4 C 690,834 670,833 650,830.5 C 646,822 645,812 645.7,805 Z" fill="url(#stip)" stroke="#111" stroke-width="3.6" stroke-linejoin="round" />
<path d="M 645.7,926 C 650,931 660,932 698.4,921.5 C 706,918 708,902 705.7,892 C 690,892 670,893 651.5,897 C 646,905 645,916 645.7,926 Z" fill="url(#stip)" stroke="#111" stroke-width="3.6" stroke-linejoin="round" />
<path d="M 655,829 Q 680,826 698,830" fill="none" stroke="#111" stroke-width="3"/>
<path d="M 660,896.5 Q 680,893 700,894" fill="none" stroke="#111" stroke-width="3"/>
<path d="M 494.0,779.0 L 520.0,790.0 L 522.0,934.0 L 494.0,949.0 Z" fill="url(#stip)" stroke="#111" stroke-width="3.6" stroke-linejoin="round" />
<path d="M 522.0,799.0 L 537.0,799.0 L 537.0,928.0 L 522.0,928.0 Z" fill="url(#stip)" stroke="#111" stroke-width="3.6" stroke-linejoin="round" />
<line x1="522" y1="794" x2="522" y2="934" stroke="#111" stroke-width="3.4" />
<line x1="537" y1="796" x2="537" y2="932" stroke="#111" stroke-width="3.6" />
<rect x="527" y="791" width="16" height="3.4" fill="#fff" stroke="#111" stroke-width="1.6"/>
<path d="M 494.0,753.0 L 540.0,764.4 L 543.0,790.5 L 520.0,789.4 L 496.0,779.0 Z" fill="url(#stip)" stroke="#111" stroke-width="3.6" stroke-linejoin="round" />
<path d="M 494.0,974.0 L 541.0,962.5 L 543.0,938.5 L 520.0,935.4 L 496.0,949.0 Z" fill="url(#stip)" stroke="#111" stroke-width="3.6" stroke-linejoin="round" />
<path d="M 445,832.2 L 456.5,760 Q 458.5,749.8 470,749.8 L 493,753 L 494,832.2 Z" fill="url(#stip)" stroke="#111" stroke-width="3.6" stroke-linejoin="round" />
<path d="M 445,898.9 L 456.5,967 Q 458.5,977 470,977 L 493,974 L 494,898.9 Z" fill="url(#stip)" stroke="#111" stroke-width="3.6" stroke-linejoin="round" />
<path d="M 494.0,834.3 L 513.8,855.0 L 516.0,865.5 L 513.8,876.0 L 494.0,895.8 Z" fill="url(#stip)" stroke="#111" stroke-width="3.6" stroke-linejoin="round" />
<path d="M 494,832.3 L 458,832.3 C 438,834 428.3,850 428.3,865.5 C 428.3,881 438,897 458,898.8 L 494,898.8 Z" fill="url(#stip)" stroke="#111" stroke-width="3.6" stroke-linejoin="round" />
<line x1="588.0" y1="429.8" x2="591.7" y2="342.5" stroke="#111" stroke-width="5.1"/>
<line x1="588.0" y1="429.8" x2="569.0" y2="349.1" stroke="#111" stroke-width="3.7"/>
<line x1="588.0" y1="429.8" x2="554.3" y2="356.4" stroke="#111" stroke-width="3.7"/>
<line x1="588.0" y1="429.8" x2="544.0" y2="361.5" stroke="#111" stroke-width="3.7"/>
<line x1="588.0" y1="429.8" x2="527.1" y2="374.7" stroke="#111" stroke-width="4.5"/>
<line x1="588.0" y1="429.8" x2="614.4" y2="344.7" stroke="#111" stroke-width="4.1"/>
<line x1="588.0" y1="429.8" x2="637.2" y2="357.9" stroke="#111" stroke-width="3.7"/>
<line x1="588.0" y1="429.8" x2="668.7" y2="393.1" stroke="#111" stroke-width="3.4"/>
<line x1="588.0" y1="429.8" x2="675.3" y2="416.6" stroke="#111" stroke-width="3.4"/>
<line x1="588.0" y1="429.8" x2="667.3" y2="454.7" stroke="#111" stroke-width="3.7"/>
<line x1="588.0" y1="429.8" x2="658.5" y2="473.0" stroke="#111" stroke-width="3.4"/>
<line x1="588.0" y1="429.8" x2="637.9" y2="491.4" stroke="#111" stroke-width="4.1"/>
<line x1="588.0" y1="429.8" x2="624.7" y2="500.2" stroke="#111" stroke-width="3.4"/>
<line x1="588.0" y1="429.8" x2="601.2" y2="503.1" stroke="#111" stroke-width="4.1"/>
<line x1="588.0" y1="429.8" x2="586.6" y2="503.1" stroke="#111" stroke-width="4.1"/>
<line x1="588.0" y1="429.8" x2="566.0" y2="498.7" stroke="#111" stroke-width="3.7"/>
<line x1="588.0" y1="429.8" x2="554.3" y2="491.4" stroke="#111" stroke-width="3.7"/>
<line x1="588.0" y1="429.8" x2="535.2" y2="478.2" stroke="#111" stroke-width="3.7"/>
<line x1="588.0" y1="429.8" x2="527.9" y2="470.8" stroke="#111" stroke-width="3.4"/>
<line x1="588.0" y1="429.8" x2="522.0" y2="459.1" stroke="#111" stroke-width="3.4"/>
<line x1="588.0" y1="429.8" x2="514.7" y2="438.6" stroke="#111" stroke-width="3.7"/>
<line x1="588.0" y1="429.8" x2="513.2" y2="419.5" stroke="#111" stroke-width="3.7"/>
<line x1="588.0" y1="429.8" x2="576.3" y2="385.8" stroke="#111" stroke-width="4.1"/>
<line x1="588.0" y1="429.8" x2="602.7" y2="385.8" stroke="#111" stroke-width="4.1"/>
<line x1="588.0" y1="429.8" x2="611.5" y2="391.6" stroke="#111" stroke-width="3.4"/>
<line x1="588.0" y1="429.8" x2="564.6" y2="462.0" stroke="#111" stroke-width="4.1"/>
<line x1="588.0" y1="429.8" x2="576.3" y2="470.8" stroke="#111" stroke-width="4.1"/>
<line x1="588.0" y1="429.8" x2="611.5" y2="467.9" stroke="#111" stroke-width="4.1"/>
<line x1="588.0" y1="429.8" x2="617.4" y2="459.1" stroke="#111" stroke-width="3.4"/>
<line x1="588.0" y1="429.8" x2="626.2" y2="412.2" stroke="#111" stroke-width="3.1"/>
<line x1="588.0" y1="429.8" x2="548.4" y2="412.2" stroke="#111" stroke-width="3.1"/>
<line x1="588.0" y1="429.8" x2="544.0" y2="485.5" stroke="#111" stroke-width="3.2"/>
<line x1="588.0" y1="429.8" x2="576.3" y2="501.7" stroke="#111" stroke-width="3.2"/>
<line x1="588.0" y1="429.8" x2="519.1" y2="450.3" stroke="#111" stroke-width="3.0"/>
<line x1="588.0" y1="429.8" x2="613.0" y2="501.7" stroke="#111" stroke-width="3.2"/>
<line x1="588.0" y1="429.8" x2="648.2" y2="482.6" stroke="#111" stroke-width="3.0"/>
<line x1="588.0" y1="429.8" x2="582.2" y2="462.0" stroke="#111" stroke-width="4.5"/>
<line x1="588.0" y1="429.8" x2="599.8" y2="466.4" stroke="#111" stroke-width="4.5"/>
<line x1="588.0" y1="429.8" x2="570.4" y2="406.3" stroke="#111" stroke-width="4.2"/>
<line x1="588.0" y1="429.8" x2="602.7" y2="403.4" stroke="#111" stroke-width="4.0"/>
<circle cx="584.7" cy="424.6" r="45.6" fill="none" stroke="#111" stroke-width="4"/>
<path d="M 530.5,372.5 A 81,81 0 1 1 513.3,419.6" fill="none" stroke="#111" stroke-width="2.4"/>
<circle cx="588.0" cy="429.8" r="15" fill="#111"/>
<path d="M 588.0,429.8 L 566.8,408.6 A 30,30 0 0 1 585.4,399.9 Z" fill="#111"/>
<path d="M 588.0,429.8 L 603.0,455.7 A 30,30 0 0 1 582.8,459.3 Z" fill="#111"/>
<path d="M 588.0,429.8 L 575.0,452.3 A 26,26 0 0 1 563.6,438.7 Z" fill="#111"/>
<line x1="523.4741784037559" y1="372.5469483568075" x2="531.543427230047" y2="379.14906103286387" stroke="#222" stroke-width="3.4" />
<line x1="513.9377934272301" y1="410.6924882629108" x2="515.4049295774648" y2="423.8967136150235" stroke="#222" stroke-width="3" />
<line x1="453.8" y1="561.9" x2="403.5" y2="475.9" stroke="#111" stroke-width="4.1"/>
<line x1="453.8" y1="561.9" x2="388.9" y2="487.3" stroke="#111" stroke-width="8.2"/>
<line x1="453.8" y1="561.9" x2="374.3" y2="510.0" stroke="#111" stroke-width="4.1"/>
<line x1="453.8" y1="561.9" x2="366.2" y2="523.0" stroke="#111" stroke-width="4.1"/>
<line x1="453.8" y1="561.9" x2="364.6" y2="540.8" stroke="#111" stroke-width="4.1"/>
<line x1="453.8" y1="561.9" x2="359.7" y2="557.0" stroke="#111" stroke-width="4.8"/>
<line x1="453.8" y1="561.9" x2="366.2" y2="584.6" stroke="#111" stroke-width="4.1"/>
<line x1="453.8" y1="561.9" x2="372.7" y2="595.9" stroke="#111" stroke-width="4.8"/>
<line x1="453.8" y1="561.9" x2="457.0" y2="462.2" stroke="#111" stroke-width="4.1"/>
<line x1="453.8" y1="561.9" x2="474.9" y2="462.2" stroke="#111" stroke-width="3.4"/>
<line x1="453.8" y1="561.9" x2="508.1" y2="477.6" stroke="#111" stroke-width="4.1"/>
<line x1="453.8" y1="561.9" x2="518.6" y2="484.9" stroke="#111" stroke-width="4.1"/>
<line x1="453.8" y1="561.9" x2="536.5" y2="513.2" stroke="#111" stroke-width="4.1"/>
<line x1="453.8" y1="561.9" x2="544.6" y2="527.8" stroke="#111" stroke-width="3.4"/>
<line x1="453.8" y1="561.9" x2="551.1" y2="550.5" stroke="#111" stroke-width="4.1"/>
<line x1="453.8" y1="561.9" x2="551.1" y2="565.1" stroke="#111" stroke-width="5.7"/>
<line x1="453.8" y1="561.9" x2="427.8" y2="639.7" stroke="#111" stroke-width="4.1"/>
<line x1="453.8" y1="561.9" x2="437.6" y2="649.4" stroke="#111" stroke-width="4.8"/>
<line x1="453.8" y1="561.9" x2="447.3" y2="649.4" stroke="#111" stroke-width="4.8"/>
<line x1="453.8" y1="561.9" x2="470.0" y2="649.4" stroke="#111" stroke-width="4.1"/>
<line x1="453.8" y1="561.9" x2="497.6" y2="639.7" stroke="#111" stroke-width="4.1"/>
<line x1="453.8" y1="561.9" x2="483.0" y2="592.7" stroke="#111" stroke-width="3.7"/>
<line x1="453.8" y1="561.9" x2="434.3" y2="599.2" stroke="#111" stroke-width="4.1"/>
<circle cx="465" cy="562" r="45" fill="none" stroke="#111" stroke-width="4.4"/>
<path d="M 453.8,561.9 L 419.0,571.2 A 36,36 0 0 1 424.3,541.2 Z" fill="#111"/>
<path d="M 453.8,561.9 L 385.6,488.8 A 100,100 0 0 1 391.5,483.6 Z" fill="#111"/>
<path d="M 453.8,561.9 L 448.2,601.5 A 40,40 0 0 1 430.8,594.7 Z" fill="#111"/>
<path d="M 453.8,561.9 L 502.7,551.5 A 50,50 0 0 1 503.7,565.4 Z" fill="#111"/>
<path d="M 375.0,598.4 A 84.2,84.2 0 0 1 405.3,477.0" fill="none" stroke="#111" stroke-width="2.6"/>
<path d="M 474.8,463.4 A 98,98 0 0 1 554.3,576.9" fill="none" stroke="#111" stroke-width="1.6"/>
<path d="M 506.1,636.5 A 90,90 0 0 1 405.5,636.5" fill="none" stroke="#111" stroke-width="1.6"/>
<line x1="447.29203826820174" y1="462.16150478352523" x2="478.10118371979894" y2="462.16150478352523" stroke="#222" stroke-width="3" />
<line x1="398.64601913410087" y1="479.18761148046053" x2="410.8075239176261" y2="471.89070861034537" stroke="#222" stroke-width="3.4" />
<line x1="541.34100859413" y1="563.5073779795687" x2="542.9625425652667" y2="579.7227176909356" stroke="#222" stroke-width="2" />
<line x1="604.9" y1="557.8" x2="546.2" y2="522.3" stroke="#111" stroke-width="4.5"/>
<line x1="604.9" y1="557.8" x2="557.0" y2="508.4" stroke="#111" stroke-width="4"/>
<line x1="604.9" y1="557.8" x2="564.7" y2="505.3" stroke="#111" stroke-width="3.6"/>
<line x1="604.9" y1="557.8" x2="586.4" y2="506.9" stroke="#111" stroke-width="4.2"/>
<line x1="604.9" y1="557.8" x2="555.5" y2="517.7" stroke="#111" stroke-width="6.1"/>
<line x1="604.9" y1="557.8" x2="552.4" y2="536.2" stroke="#111" stroke-width="3.7"/>
<line x1="604.9" y1="557.8" x2="549.9" y2="550.1" stroke="#111" stroke-width="3.7"/>
<line x1="604.9" y1="557.8" x2="598.7" y2="505.3" stroke="#111" stroke-width="5.1"/>
<line x1="604.9" y1="557.8" x2="609.5" y2="502.9" stroke="#111" stroke-width="3.7"/>
<line x1="604.9" y1="557.8" x2="638.9" y2="508.4" stroke="#111" stroke-width="3.7"/>
<line x1="604.9" y1="557.8" x2="651.2" y2="530.0" stroke="#111" stroke-width="3.4"/>
<line x1="604.9" y1="557.8" x2="657.4" y2="554.7" stroke="#111" stroke-width="4.1"/>
<line x1="604.9" y1="557.8" x2="654.3" y2="576.4" stroke="#111" stroke-width="3.4"/>
<line x1="604.9" y1="557.8" x2="638.9" y2="604.2" stroke="#111" stroke-width="3.4"/>
<line x1="604.9" y1="557.8" x2="626.5" y2="610.3" stroke="#111" stroke-width="3.4"/>
<line x1="604.9" y1="557.8" x2="608.0" y2="616.5" stroke="#111" stroke-width="4.1"/>
<line x1="604.9" y1="557.8" x2="595.6" y2="613.4" stroke="#111" stroke-width="3.4"/>
<line x1="604.9" y1="557.8" x2="583.3" y2="613.4" stroke="#111" stroke-width="3.4"/>
<line x1="604.9" y1="557.8" x2="567.8" y2="604.2" stroke="#111" stroke-width="3.4"/>
<line x1="604.9" y1="557.8" x2="555.5" y2="591.8" stroke="#111" stroke-width="3.4"/>
<line x1="604.9" y1="557.8" x2="560.1" y2="533.1" stroke="#111" stroke-width="3.7"/>
<line x1="604.9" y1="557.8" x2="642.0" y2="537.8" stroke="#111" stroke-width="3.4"/>
<circle cx="603.8" cy="557" r="33" fill="none" stroke="#111" stroke-width="4.4"/>
<path d="M 640.4,515.9 A 55,55 0 1 1 558.4,587.1" fill="none" stroke="#111" stroke-width="3"/>
<path d="M 556.7,570.9 A 50,50 0 0 1 564.0,529.3" fill="none" stroke="#111" stroke-width="3"/>
<circle cx="604.9" cy="557.8" r="14" fill="#111"/>
<path d="M 604.9,557.8 L 582.4,544.8 A 26,26 0 0 1 591.9,535.3 Z" fill="#111"/>
<path d="M 604.9,557.8 L 609.1,581.4 A 24,24 0 0 1 591.1,577.5 Z" fill="#111"/>
<line x1="631.1583011583011" y1="503.7837837837838" x2="649.6911196911196" y2="519.2277992277992" stroke="#222" stroke-width="3" />
<rect x="744.8" y="115.0" width="22.5" height="8.5" rx="1.5" fill="#fff" stroke="#111" stroke-width="4.5"/>
<rect x="779.6" y="115.0" width="22.5" height="8.5" rx="1.5" fill="#fff" stroke="#111" stroke-width="4.5"/>
<rect x="814.4" y="115.0" width="22.5" height="8.5" rx="1.5" fill="#fff" stroke="#111" stroke-width="4.5"/>
<rect x="849.2" y="115.0" width="22.5" height="8.5" rx="1.5" fill="#fff" stroke="#111" stroke-width="4.5"/>
<rect x="884.0" y="115.0" width="22.5" height="8.5" rx="1.5" fill="#fff" stroke="#111" stroke-width="4.5"/>
<rect x="918.8" y="115.0" width="22.5" height="8.5" rx="1.5" fill="#fff" stroke="#111" stroke-width="4.5"/>
<rect x="953.6" y="115.0" width="22.5" height="8.5" rx="1.5" fill="#fff" stroke="#111" stroke-width="4.5"/>
<rect x="988.4" y="115.0" width="22.5" height="8.5" rx="1.5" fill="#fff" stroke="#111" stroke-width="4.5"/>
<rect x="1023.2" y="115.0" width="22.5" height="8.5" rx="1.5" fill="#fff" stroke="#111" stroke-width="4.5"/>
<polyline points="744.2,98.3 726.7,119.3 744.2,140.3" fill="none" stroke="#111" stroke-width="11" stroke-linejoin="miter" stroke-miterlimit="10" stroke-linecap="butt"/>
<polyline points="742.8,100.0 726.7,119.3 742.8,138.6" fill="none" stroke="#fff" stroke-width="3.0" stroke-linejoin="miter" stroke-linecap="butt"/>
<polyline points="1046.3,140.3 1063.8,119.3 1046.3,98.3" fill="none" stroke="#111" stroke-width="11" stroke-linejoin="miter" stroke-miterlimit="10" stroke-linecap="butt"/>
<polyline points="1047.7,138.6 1063.8,119.3 1047.7,100.0" fill="none" stroke="#fff" stroke-width="3.0" stroke-linejoin="miter" stroke-linecap="butt"/>
<rect x="832.2" y="189.2" width="20.5" height="8.5" rx="1.5" fill="#fff" stroke="#111" stroke-width="4.5"/>
<rect x="867.8" y="189.2" width="20.5" height="8.5" rx="1.5" fill="#fff" stroke="#111" stroke-width="4.5"/>
<rect x="903.2" y="189.2" width="20.5" height="8.5" rx="1.5" fill="#fff" stroke="#111" stroke-width="4.5"/>
<rect x="938.8" y="189.2" width="20.5" height="8.5" rx="1.5" fill="#fff" stroke="#111" stroke-width="4.5"/>
<polyline points="830.7,172.5 813.2,193.5 830.7,214.5" fill="none" stroke="#111" stroke-width="11" stroke-linejoin="miter" stroke-miterlimit="10" stroke-linecap="butt"/>
<polyline points="829.3,174.2 813.2,193.5 829.3,212.8" fill="none" stroke="#fff" stroke-width="3.0" stroke-linejoin="miter" stroke-linecap="butt"/>
<polyline points="960.8,214.5 978.3,193.5 960.8,172.5" fill="none" stroke="#111" stroke-width="11" stroke-linejoin="miter" stroke-miterlimit="10" stroke-linecap="butt"/>
<polyline points="962.2,212.8 978.3,193.5 962.2,174.2" fill="none" stroke="#fff" stroke-width="3.0" stroke-linejoin="miter" stroke-linecap="butt"/>
<line x1="841.5" y1="267" x2="953" y2="267" stroke="#111" stroke-width="2.6" />
<polyline points="866.5,245 841.5,267 866.5,289" fill="none" stroke="#111" stroke-width="2.4" stroke-linecap="round"/>
<polyline points="928,245 953,267 928,289" fill="none" stroke="#111" stroke-width="2.4" stroke-linecap="round"/>
<rect x="1160.5" y="358.1" width="8.5" height="22.5" rx="1.5" fill="#fff" stroke="#111" stroke-width="4.5"/>
<polyline points="1184.8,356.4 1164.8,335.4 1144.8,356.4" fill="none" stroke="#111" stroke-width="11" stroke-linejoin="miter" stroke-miterlimit="10" stroke-linecap="butt"/>
<polyline points="1183.3,354.8 1164.8,335.4 1146.3,354.8" fill="none" stroke="#fff" stroke-width="3.0" stroke-linejoin="miter" stroke-linecap="butt"/>
<polyline points="1144.8,382.3 1164.8,403.3 1184.8,382.3" fill="none" stroke="#111" stroke-width="11" stroke-linejoin="miter" stroke-miterlimit="10" stroke-linecap="butt"/>
<polyline points="1146.3,383.9 1164.8,403.3 1183.3,383.9" fill="none" stroke="#fff" stroke-width="3.0" stroke-linejoin="miter" stroke-linecap="butt"/>
<line x1="1165" y1="436.5" x2="1165" y2="661.5" stroke="#111" stroke-width="2.6" />
<polyline points="1143,461.5 1165,436.5 1187,461.5" fill="none" stroke="#111" stroke-width="2.4" stroke-linecap="round"/>
<polyline points="1143,636.5 1165,661.5 1187,636.5" fill="none" stroke="#111" stroke-width="2.4" stroke-linecap="round"/>
<rect x="1248.8" y="355.6" width="8.5" height="20.5" rx="1.5" fill="#fff" stroke="#111" stroke-width="4.5"/>
<rect x="1248.8" y="389.6" width="8.5" height="20.5" rx="1.5" fill="#fff" stroke="#111" stroke-width="4.5"/>
<rect x="1248.8" y="423.7" width="8.5" height="20.5" rx="1.5" fill="#fff" stroke="#111" stroke-width="4.5"/>
<rect x="1248.8" y="457.7" width="8.5" height="20.5" rx="1.5" fill="#fff" stroke="#111" stroke-width="4.5"/>
<rect x="1248.8" y="491.8" width="8.5" height="20.5" rx="1.5" fill="#fff" stroke="#111" stroke-width="4.5"/>
<rect x="1248.8" y="525.9" width="8.5" height="20.5" rx="1.5" fill="#fff" stroke="#111" stroke-width="4.5"/>
<rect x="1248.8" y="559.9" width="8.5" height="20.5" rx="1.5" fill="#fff" stroke="#111" stroke-width="4.5"/>
<rect x="1248.8" y="594.0" width="8.5" height="20.5" rx="1.5" fill="#fff" stroke="#111" stroke-width="4.5"/>
<rect x="1248.8" y="628.1" width="8.5" height="20.5" rx="1.5" fill="#fff" stroke="#111" stroke-width="4.5"/>
<rect x="1248.8" y="662.1" width="8.5" height="20.5" rx="1.5" fill="#fff" stroke="#111" stroke-width="4.5"/>
<rect x="1248.8" y="696.2" width="8.5" height="20.5" rx="1.5" fill="#fff" stroke="#111" stroke-width="4.5"/>
<rect x="1248.8" y="730.2" width="8.5" height="20.5" rx="1.5" fill="#fff" stroke="#111" stroke-width="4.5"/>
<polyline points="1273.0,355.8 1253.0,334.8 1233.0,355.8" fill="none" stroke="#111" stroke-width="11" stroke-linejoin="miter" stroke-miterlimit="10" stroke-linecap="butt"/>
<polyline points="1271.5,354.2 1253.0,334.8 1234.5,354.2" fill="none" stroke="#fff" stroke-width="3.0" stroke-linejoin="miter" stroke-linecap="butt"/>
<polyline points="1233.0,750.5 1253.0,771.5 1273.0,750.5" fill="none" stroke="#111" stroke-width="11" stroke-linejoin="miter" stroke-miterlimit="10" stroke-linecap="butt"/>
<polyline points="1234.5,752.1 1253.0,771.5 1271.5,752.1" fill="none" stroke="#fff" stroke-width="3.0" stroke-linejoin="miter" stroke-linecap="butt"/>
<rect x="139.8" y="716.9" width="8.5" height="23.3" rx="1.5" fill="#fff" stroke="#111" stroke-width="4.5"/>
<rect x="139.8" y="750.6" width="8.5" height="23.3" rx="1.5" fill="#fff" stroke="#111" stroke-width="4.5"/>
<rect x="139.8" y="784.4" width="8.5" height="23.3" rx="1.5" fill="#fff" stroke="#111" stroke-width="4.5"/>
<rect x="139.8" y="818.1" width="8.5" height="23.3" rx="1.5" fill="#fff" stroke="#111" stroke-width="4.5"/>
<rect x="139.8" y="851.9" width="8.5" height="23.3" rx="1.5" fill="#fff" stroke="#111" stroke-width="4.5"/>
<rect x="139.8" y="885.6" width="8.5" height="23.3" rx="1.5" fill="#fff" stroke="#111" stroke-width="4.5"/>
<rect x="139.8" y="919.4" width="8.5" height="23.3" rx="1.5" fill="#fff" stroke="#111" stroke-width="4.5"/>
<rect x="139.8" y="953.1" width="8.5" height="23.3" rx="1.5" fill="#fff" stroke="#111" stroke-width="4.5"/>
<rect x="139.8" y="986.9" width="8.5" height="23.3" rx="1.5" fill="#fff" stroke="#111" stroke-width="4.5"/>
<polyline points="164.0,717.0 144.0,696.0 124.0,717.0" fill="none" stroke="#111" stroke-width="11" stroke-linejoin="miter" stroke-miterlimit="10" stroke-linecap="butt"/>
<polyline points="162.5,715.4 144.0,696.0 125.5,715.4" fill="none" stroke="#fff" stroke-width="3.0" stroke-linejoin="miter" stroke-linecap="butt"/>
<polyline points="124.0,1010.0 144.0,1031.0 164.0,1010.0" fill="none" stroke="#111" stroke-width="11" stroke-linejoin="miter" stroke-miterlimit="10" stroke-linecap="butt"/>
<polyline points="125.5,1011.6 144.0,1031.0 162.5,1011.6" fill="none" stroke="#fff" stroke-width="3.0" stroke-linejoin="miter" stroke-linecap="butt"/>
<rect x="217.2" y="801.2" width="8.5" height="19.5" rx="1.5" fill="#fff" stroke="#111" stroke-width="4.5"/>
<rect x="217.2" y="836.2" width="8.5" height="19.5" rx="1.5" fill="#fff" stroke="#111" stroke-width="4.5"/>
<rect x="217.2" y="871.2" width="8.5" height="19.5" rx="1.5" fill="#fff" stroke="#111" stroke-width="4.5"/>
<rect x="217.2" y="906.2" width="8.5" height="19.5" rx="1.5" fill="#fff" stroke="#111" stroke-width="4.5"/>
<polyline points="241.5,800.0 221.5,779.0 201.5,800.0" fill="none" stroke="#111" stroke-width="11" stroke-linejoin="miter" stroke-miterlimit="10" stroke-linecap="butt"/>
<polyline points="240.0,798.4 221.5,779.0 203.0,798.4" fill="none" stroke="#fff" stroke-width="3.0" stroke-linejoin="miter" stroke-linecap="butt"/>
<polyline points="201.5,927.0 221.5,948.0 241.5,927.0" fill="none" stroke="#111" stroke-width="11" stroke-linejoin="miter" stroke-miterlimit="10" stroke-linecap="butt"/>
<polyline points="203.0,928.6 221.5,948.0 240.0,928.6" fill="none" stroke="#fff" stroke-width="3.0" stroke-linejoin="miter" stroke-linecap="butt"/>
<line x1="287.5" y1="798" x2="287.5" y2="929" stroke="#111" stroke-width="2.6" />
<polyline points="265.5,823 287.5,798 309.5,823" fill="none" stroke="#111" stroke-width="2.4" stroke-linecap="round"/>
<polyline points="265.5,904 287.5,929 309.5,904" fill="none" stroke="#111" stroke-width="2.4" stroke-linecap="round"/>
<rect x="390.5" y="1126.8" width="23.5" height="8.5" rx="1.5" fill="#fff" stroke="#111" stroke-width="4.5"/>
<polyline points="382.7,1110.0 365.2,1131.0 382.7,1152.0" fill="none" stroke="#111" stroke-width="11" stroke-linejoin="miter" stroke-miterlimit="10" stroke-linecap="butt"/>
<polyline points="381.3,1111.7 365.2,1131.0 381.3,1150.3" fill="none" stroke="#fff" stroke-width="3.0" stroke-linejoin="miter" stroke-linecap="butt"/>
<polyline points="421.8,1152.0 439.3,1131.0 421.8,1110.0" fill="none" stroke="#111" stroke-width="11" stroke-linejoin="miter" stroke-miterlimit="10" stroke-linecap="butt"/>
<polyline points="423.2,1150.3 439.3,1131.0 423.2,1111.7" fill="none" stroke="#fff" stroke-width="3.0" stroke-linejoin="miter" stroke-linecap="butt"/>
<line x1="470" y1="1130" x2="698" y2="1130" stroke="#111" stroke-width="5.5" />
<polyline points="495,1108 470,1130 495,1152" fill="none" stroke="#111" stroke-width="2.4" stroke-linecap="round"/>
<polyline points="673,1108 698,1130 673,1152" fill="none" stroke="#111" stroke-width="2.4" stroke-linecap="round"/>
<rect x="382.2" y="1218.0" width="20.5" height="8.5" rx="1.5" fill="#fff" stroke="#111" stroke-width="4.5"/>
<rect x="416.3" y="1218.0" width="20.5" height="8.5" rx="1.5" fill="#fff" stroke="#111" stroke-width="4.5"/>
<rect x="450.3" y="1218.0" width="20.5" height="8.5" rx="1.5" fill="#fff" stroke="#111" stroke-width="4.5"/>
<rect x="484.4" y="1218.0" width="20.5" height="8.5" rx="1.5" fill="#fff" stroke="#111" stroke-width="4.5"/>
<rect x="518.4" y="1218.0" width="20.5" height="8.5" rx="1.5" fill="#fff" stroke="#111" stroke-width="4.5"/>
<rect x="552.5" y="1218.0" width="20.5" height="8.5" rx="1.5" fill="#fff" stroke="#111" stroke-width="4.5"/>
<rect x="586.5" y="1218.0" width="20.5" height="8.5" rx="1.5" fill="#fff" stroke="#111" stroke-width="4.5"/>
<rect x="620.5" y="1218.0" width="20.5" height="8.5" rx="1.5" fill="#fff" stroke="#111" stroke-width="4.5"/>
<rect x="654.6" y="1218.0" width="20.5" height="8.5" rx="1.5" fill="#fff" stroke="#111" stroke-width="4.5"/>
<rect x="688.6" y="1218.0" width="20.5" height="8.5" rx="1.5" fill="#fff" stroke="#111" stroke-width="4.5"/>
<rect x="722.7" y="1218.0" width="20.5" height="8.5" rx="1.5" fill="#fff" stroke="#111" stroke-width="4.5"/>
<rect x="756.7" y="1218.0" width="20.5" height="8.5" rx="1.5" fill="#fff" stroke="#111" stroke-width="4.5"/>
<rect x="790.8" y="1218.0" width="20.5" height="8.5" rx="1.5" fill="#fff" stroke="#111" stroke-width="4.5"/>
<polyline points="382.7,1201.3 365.2,1222.3 382.7,1243.3" fill="none" stroke="#111" stroke-width="11" stroke-linejoin="miter" stroke-miterlimit="10" stroke-linecap="butt"/>
<polyline points="381.3,1203.0 365.2,1222.3 381.3,1241.6" fill="none" stroke="#fff" stroke-width="3.0" stroke-linejoin="miter" stroke-linecap="butt"/>
<polyline points="810.8,1243.3 828.3,1222.3 810.8,1201.3" fill="none" stroke="#111" stroke-width="11" stroke-linejoin="miter" stroke-miterlimit="10" stroke-linecap="butt"/>
<polyline points="812.2,1241.6 828.3,1222.3 812.2,1203.0" fill="none" stroke="#fff" stroke-width="3.0" stroke-linejoin="miter" stroke-linecap="butt"/>
<polyline points="668.9,565.7 689.9,543.7 668.9,521.7" fill="none" stroke="#111" stroke-width="11" stroke-linejoin="miter" stroke-miterlimit="10" stroke-linecap="butt"/>
<polyline points="670.4,564.1 689.9,543.7 670.4,523.3" fill="none" stroke="#fff" stroke-width="3.0" stroke-linejoin="miter" stroke-linecap="butt"/>
<polyline points="755.8,521.7 734.8,543.7 755.8,565.7" fill="none" stroke="#111" stroke-width="11" stroke-linejoin="miter" stroke-miterlimit="10" stroke-linecap="butt"/>
<polyline points="754.3,523.3 734.8,543.7 754.3,564.1" fill="none" stroke="#fff" stroke-width="3.0" stroke-linejoin="miter" stroke-linecap="butt"/>
<polyline points="567.0,631.9 589.0,652.9 611.0,631.9" fill="none" stroke="#111" stroke-width="11" stroke-linejoin="miter" stroke-miterlimit="10" stroke-linecap="butt"/>
<polyline points="568.6,633.4 589.0,652.9 609.4,633.4" fill="none" stroke="#fff" stroke-width="3.0" stroke-linejoin="miter" stroke-linecap="butt"/>
<polyline points="611.0,720.6 589.0,699.6 567.0,720.6" fill="none" stroke="#111" stroke-width="11" stroke-linejoin="miter" stroke-miterlimit="10" stroke-linecap="butt"/>
<polyline points="609.4,719.1 589.0,699.6 568.6,719.1" fill="none" stroke="#fff" stroke-width="3.0" stroke-linejoin="miter" stroke-linecap="butt"/>
<text x="0" y="0" transform="translate(895.8 101) scale(0.9 1)" font-size="40" font-weight="bold" text-anchor="middle" fill="#111" >F</text>
<text x="0" y="0" transform="translate(896.7 175) scale(0.9 1)" font-size="40" font-weight="bold" text-anchor="middle" fill="#111" >G</text>
<text x="0" y="0" transform="translate(893.5 255.5)" font-size="38" font-weight="bold" text-anchor="middle" fill="#111" >10</text>
<text x="0" y="0" transform="translate(600.5 1204)" font-size="36" font-weight="bold" text-anchor="middle" fill="#111" >C</text>
<text x="0" y="0" transform="translate(402 1109)" font-size="36" font-weight="bold" text-anchor="middle" fill="#111" >D</text>
<text x="0" y="0" transform="translate(578 1114)" font-size="37" font-weight="bold" text-anchor="middle" fill="#111" >15</text>
<text x="0" y="0" transform="translate(125.5 866) rotate(-90) scale(0.86 1)" font-size="40" font-weight="bold" text-anchor="middle" fill="#111" >A</text>
<text x="0" y="0" transform="translate(205.5 864.5) rotate(-90) scale(0.9 1)" font-size="40" font-weight="bold" text-anchor="middle" fill="#111" >B</text>
<text x="0" y="0" transform="translate(273 865) rotate(-90)" font-size="38" font-weight="bold" text-anchor="middle" fill="#111" >10</text>
<text x="0" y="0" transform="translate(1142.5 368.4) rotate(-90)" font-size="34" font-weight="bold" text-anchor="middle" fill="#111" >D</text>
<text x="0" y="0" transform="translate(1148 545) rotate(-90)" font-size="37" font-weight="bold" text-anchor="middle" fill="#111" >15</text>
<text x="0" y="0" transform="translate(1235 551) rotate(-90)" font-size="37" font-weight="bold" text-anchor="middle" fill="#111" >H</text>
<text x="0" y="0" transform="translate(697 532.6)" font-size="36" font-weight="bold" text-anchor="start" fill="#111" >E</text>
<text x="0" y="0" transform="translate(574.3 692.5) rotate(-90) scale(1.08 1)" font-size="39" font-weight="bold" text-anchor="start" fill="#111" >E</text>
<text x="0" y="0" transform="translate(492 1020)" font-size="26" font-weight="normal" text-anchor="start" fill="#222" stroke="#333" stroke-width="0.55" textLength="154" lengthAdjust="spacing" >Apoyabrazos</text>
<text x="0" y="0" transform="translate(1056 622) rotate(-90)" font-size="26" font-weight="normal" text-anchor="start" fill="#222" stroke="#333" stroke-width="0.55" textLength="156" lengthAdjust="spacing" >Apoyabrazos</text>
<text x="0" y="0" transform="translate(989 706)" font-size="26" font-weight="normal" text-anchor="start" fill="#222" stroke="#333" stroke-width="0.55" textLength="180" lengthAdjust="spacing" >Acolchamiento</text>
<text x="0" y="0" transform="translate(714 980)" font-size="26" font-weight="normal" text-anchor="start" fill="#222" stroke="#333" stroke-width="0.55" textLength="104" lengthAdjust="spacing" >Acolcha-</text>
<text x="0" y="0" transform="translate(728 1010)" font-size="26" font-weight="normal" text-anchor="start" fill="#222" stroke="#333" stroke-width="0.55" textLength="78" lengthAdjust="spacing" >miento</text>
<path d="M 989,632 C 972,640 968,672 980,696" fill="none" stroke="#222" stroke-width="1.6"/>
<path d="M 657.4,953.7 C 664,940 690,934 730,948" fill="none" stroke="#222" stroke-width="1.6"/>
<g transform="translate(936,866) rotate(-44)" fill="none" stroke="#ececec" stroke-width="1.5"><rect x="-56" y="-27" width="112" height="54"/><text x="0" y="12" font-size="34" text-anchor="middle" fill="#eeeeee" stroke="none" font-style="italic">ESID</text></g>
</g>
</svg>
</body></html>
